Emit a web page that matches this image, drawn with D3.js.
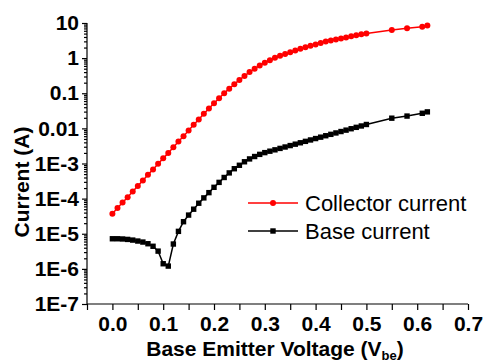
<!DOCTYPE html>
<html>
<head>
<meta charset="utf-8">
<script src="https://cdn.jsdelivr.net/npm/d3@7"></script>
<style>
  body { margin: 0; background: #fff; }
  svg { display: block; }
  text { font-family: "Liberation Sans", Arial, sans-serif; }
</style>
</head>
<body>
<svg width="483" height="363"></svg>
<script>
// base-emitter voltage (V)
var voltage = [0.00, 0.01, 0.02, 0.03, 0.04, 0.05, 0.06, 0.07, 0.08, 0.09,
  0.10, 0.11, 0.12, 0.13, 0.14, 0.15, 0.16, 0.17, 0.18, 0.19,
  0.20, 0.21, 0.22, 0.23, 0.24, 0.25, 0.26, 0.27, 0.28, 0.29,
  0.30, 0.31, 0.32, 0.33, 0.34, 0.35, 0.36, 0.37, 0.38, 0.39,
  0.40, 0.41, 0.42, 0.43, 0.44, 0.45, 0.46, 0.47, 0.48, 0.49,
  0.50, 0.55, 0.58, 0.61, 0.62];

// collector current (A)
var collector = [3.7e-5, 5.4e-5, 7.8e-5, 1.1e-4, 1.6e-4, 2.3e-4, 3.3e-4, 4.8e-4, 6.8e-4, 9.8e-4,
  1.4e-3, 2.0e-3, 2.9e-3, 4.2e-3, 6.0e-3, 8.7e-3, 0.0126, 0.018, 0.026, 0.037,
  0.052, 0.072, 0.10, 0.135, 0.18, 0.24, 0.31, 0.40, 0.50, 0.62,
  0.74, 0.87, 1.02, 1.17, 1.32, 1.48, 1.66, 1.86, 2.04, 2.24,
  2.45, 2.69, 2.95, 3.16, 3.39, 3.63, 3.89, 4.17, 4.47, 4.79,
  5.01, 6.3, 7.1, 7.8, 8.5];

// base current (A)
var base = [7.2e-6, 7.2e-6, 7.1e-6, 6.9e-6, 6.6e-6, 6.2e-6, 5.8e-6, 5.2e-6, 4.4e-6, 3.2e-6,
  1.4e-6, 1.2e-6, 5.1e-6, 1.17e-5, 2.2e-5, 3.4e-5, 5.0e-5, 7.4e-5, 1.05e-4, 1.48e-4,
  2.1e-4, 2.9e-4, 4.0e-4, 5.4e-4, 7.1e-4, 8.9e-4, 1.12e-3, 1.35e-3, 1.58e-3, 1.82e-3,
  2.04e-3, 2.24e-3, 2.45e-3, 2.69e-3, 2.95e-3, 3.24e-3, 3.55e-3, 3.89e-3, 4.27e-3, 4.68e-3,
  5.13e-3, 5.62e-3, 6.17e-3, 6.76e-3, 7.41e-3, 8.13e-3, 8.91e-3, 9.77e-3, 0.0107, 0.0117,
  0.0129, 0.0195, 0.0224, 0.0269, 0.0295];

var yTicks = [10, 1, 0.1, 0.01, 1e-3, 1e-4, 1e-5, 1e-6, 1e-7];
var yTickLabels = ["10", "1", "0.1", "0.01", "1E-3", "1E-4", "1E-5", "1E-6", "1E-7"];
var xTicks = [0.0, 0.1, 0.2, 0.3, 0.4, 0.5, 0.6, 0.7];
var xTickLabels = ["0.0", "0.1", "0.2", "0.3", "0.4", "0.5", "0.6", "0.7"];
var legendNames = ["Collector current", "Base current"];

var svg = d3.select("svg");
var margin = { left: 87, right: 468, top: 23, bottom: 304 };

var x = d3.scaleLinear().domain([-0.05, 0.7]).range([margin.left, margin.right]);
var y = d3.scaleLog().domain([1e-7, 10]).range([margin.bottom, margin.top]);

// minor ticks
var minorY = [];
yTicks.forEach(function (t) {
  if (t < 10) for (var k = 2; k <= 9; k++) minorY.push(t * k);
});
var minorX = [-0.05, 0.05, 0.15, 0.25, 0.35, 0.45, 0.55, 0.65];

svg.append("g").attr("transform", "translate(" + margin.left + ",0)")
  .call(d3.axisLeft(y).tickValues(minorY).tickSize(3).tickFormat(""))
  .select(".domain").remove();

var gy = svg.append("g").attr("transform", "translate(" + margin.left + ",0)")
  .call(d3.axisLeft(y).tickValues(yTicks).tickSize(5).tickPadding(3)
    .tickFormat(function (d, i) { return yTickLabels[i]; }));

svg.append("g").attr("transform", "translate(0," + margin.bottom + ")")
  .call(d3.axisBottom(x).tickValues(minorX).tickSize(6).tickFormat(""))
  .select(".domain").remove();

var gx = svg.append("g").attr("transform", "translate(0," + margin.bottom + ")")
  .call(d3.axisBottom(x).tickValues(xTicks).tickSize(6).tickPadding(6)
    .tickFormat(function (d, i) { return xTickLabels[i]; }));

svg.selectAll(".domain, .tick line").attr("stroke", "#000").attr("stroke-width", 1.2);
gy.select(".domain").attr("d", "M0," + margin.top + "V" + margin.bottom);
gx.select(".domain").attr("d", "M" + margin.left + ",0H" + margin.right);

svg.selectAll(".tick text")
  .attr("fill", "#000")
  .style("font-size", "21px")
  .style("font-weight", "bold");

// axis titles
svg.append("text")
  .attr("transform", "translate(29,182) rotate(-90)")
  .attr("text-anchor", "middle")
  .style("font-size", "21px").style("font-weight", "bold")
  .text("Current (A)");

var xt = svg.append("text")
  .attr("x", 275).attr("y", 356)
  .attr("text-anchor", "middle")
  .style("font-size", "21px").style("font-weight", "bold");
xt.append("tspan").text("Base Emitter Voltage (V");
xt.append("tspan").attr("dy", 4).style("font-size", "13px").text("be");
xt.append("tspan").attr("dy", -4).text(")");

// series
var line = d3.line()
  .x(function (d) { return x(d[0]); })
  .y(function (d) { return y(d[1]); });

var redData = voltage.map(function (v, i) { return [v, collector[i]]; });
var blackData = voltage.map(function (v, i) { return [v, base[i]]; });

svg.append("path").datum(blackData)
  .attr("fill", "none").attr("stroke", "#000").attr("stroke-width", 1.5)
  .attr("d", line);
svg.selectAll(".sq").data(blackData).enter().append("rect")
  .attr("x", function (d) { return x(d[0]) - 2.7; })
  .attr("y", function (d) { return y(d[1]) - 2.7; })
  .attr("width", 5.4).attr("height", 5.4)
  .attr("fill", "#000");

svg.append("path").datum(redData)
  .attr("fill", "none").attr("stroke", "#ff0000").attr("stroke-width", 1.5)
  .attr("d", line);
svg.selectAll(".dot").data(redData).enter().append("circle")
  .attr("cx", function (d) { return x(d[0]); })
  .attr("cy", function (d) { return y(d[1]); })
  .attr("r", 3)
  .attr("fill", "#ff0000");

// legend
var legend = svg.append("g").attr("transform", "translate(248,203)");
var colors = ["#ff0000", "#000"];
legendNames.forEach(function (name, i) {
  var g = legend.append("g").attr("transform", "translate(0," + (i * 28) + ")");
  g.append("line").attr("x1", 0).attr("x2", 50)
    .attr("stroke", colors[i]).attr("stroke-width", 1.5);
  if (i === 0) g.append("circle").attr("cx", 25).attr("r", 3).attr("fill", colors[i]);
  else g.append("rect").attr("x", 22.3).attr("y", -2.7).attr("width", 5.4).attr("height", 5.4).attr("fill", colors[i]);
  g.append("text").attr("x", 57).attr("y", 8)
    .style("font-size", "22px").attr("fill", "#000")
    .text(name);
});
</script>
</body>
</html>
